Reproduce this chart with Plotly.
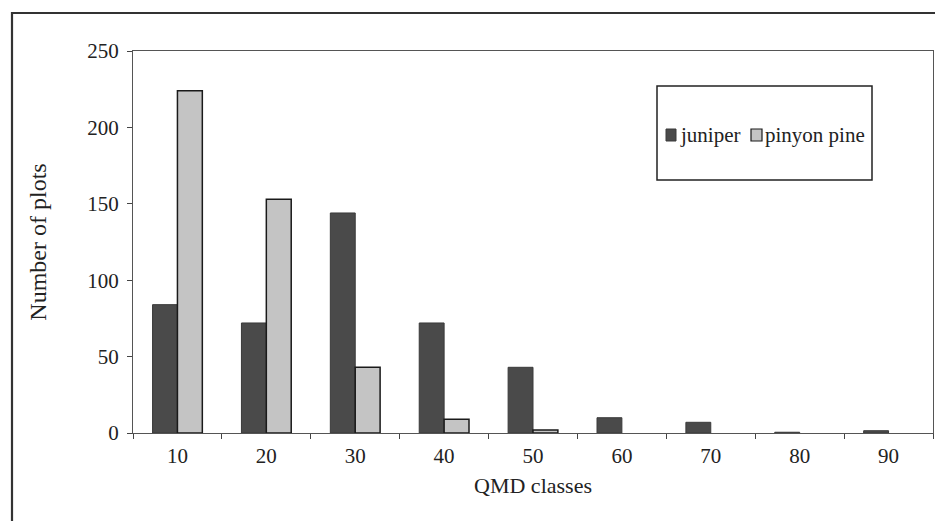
import plotly.graph_objects as go

categories = ["10", "20", "30", "40", "50", "60", "70", "80", "90"]
juniper = [84, 72, 144, 72, 43, 10, 7, 0.5, 1.5]
pinyon_pine = [224, 153, 43, 9, 2, 0, 0, 0, 0]
y_ticks = [0, 50, 100, 150, 200, 250]

FONT = "Liberation Serif"
TXT = "#222222"
DARK = "#4a4a4a"
LIGHT = "#c4c4c4"

fig = go.Figure()
fig.add_trace(go.Bar(x=categories, y=juniper, name="juniper",
                     marker=dict(color=DARK,
                                 line=dict(color="#3a3a3a",
                                           width=[1 if v > 0 else 0 for v in juniper])),
                     showlegend=False))
fig.add_trace(go.Bar(x=categories, y=pinyon_pine, name="pinyon pine",
                     marker=dict(color=LIGHT,
                                 line=dict(color="#1a1a1a",
                                           width=[1.5 if v > 0 else 0 for v in pinyon_pine])),
                     showlegend=False))

# page body has an 8px margin; build the figure so window positions match
OFF = 8
W, H = 943 - OFF, 521 - OFF
L, R, T, B = 133 - OFF, 10, 51 - OFF, 88
pw = W - L - R
ph = H - T - B

def px(x):
    return (x - OFF - L) / pw

def py(y):
    return (H - B - (y - OFF)) / ph

shapes = [
    # outer frame
    dict(type="rect", xref="paper", yref="paper",
         x0=px(12), x1=px(948), y0=py(13), y1=py(530),
         line=dict(color="#333333", width=2.2), fillcolor="rgba(0,0,0,0)", layer="above"),
    # legend box
    dict(type="rect", xref="paper", yref="paper",
         x0=px(657), x1=px(872), y0=py(86), y1=py(180),
         line=dict(color="#222222", width=1.5), fillcolor="white", layer="above"),
    # legend swatches
    dict(type="rect", xref="paper", yref="paper",
         x0=px(666), x1=px(676), y0=py(129), y1=py(141),
         line=dict(color="#3a3a3a", width=1), fillcolor=DARK, layer="above"),
    dict(type="rect", xref="paper", yref="paper",
         x0=px(751), x1=px(762), y0=py(129), y1=py(141),
         line=dict(color="#1a1a1a", width=1.2), fillcolor=LIGHT, layer="above"),
]

annotations = [
    dict(text="juniper", xref="paper", yref="paper", x=px(678), y=py(135),
         xanchor="left", yanchor="middle", showarrow=False,
         font=dict(family=FONT, size=21, color=TXT)),
    dict(text="pinyon pine", xref="paper", yref="paper", x=px(763), y=py(135),
         xanchor="left", yanchor="middle", showarrow=False,
         font=dict(family=FONT, size=21, color=TXT)),
]

fig.update_layout(
    width=W, height=H,
    margin=dict(l=L, r=R, t=T, b=B),
    paper_bgcolor="white", plot_bgcolor="white",
    font=dict(family=FONT, size=21, color=TXT),
    barmode="group", bargap=0.44, bargroupgap=0,
    shapes=shapes, annotations=annotations,
    xaxis=dict(
        type="category", tickson="boundaries", ticks="outside", ticklen=5,
        tickcolor="#444", tickwidth=1, ticklabelstandoff=4,
        showline=True, linecolor="#555", linewidth=1.2, mirror=True,
        showgrid=False, zeroline=False,
        title=dict(text="QMD classes", standoff=10, font=dict(size=22)),
        tickfont=dict(size=21),
    ),
    yaxis=dict(
        range=[0, 250], tickvals=y_ticks, ticks="outside", ticklen=5,
        tickcolor="#444", tickwidth=1, ticklabelstandoff=4,
        showline=True, linecolor="#555", linewidth=1.2, mirror=True,
        showgrid=False, zeroline=False,
        title=dict(text="Number of plots", standoff=33, font=dict(size=24)),
        tickfont=dict(size=21),
    ),
)

fig.write_html("out.html")
